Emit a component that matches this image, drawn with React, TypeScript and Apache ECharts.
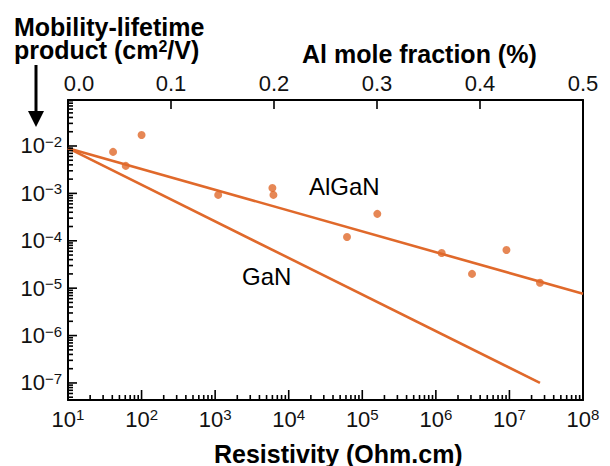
import React, { useEffect, useRef } from 'react';
import * as echarts from 'echarts';

// Measured AlGaN samples: resistivity (Ohm.cm) vs mobility-lifetime product (cm^2/V)
const resistivity = [41, 61, 100, 1.1e3, 6e3, 6.2e3, 6.2e4, 1.6e5, 1.2e6, 3.1e6, 9.1e6, 2.6e7];
const muTau = [7.5e-3, 3.8e-3, 1.7e-2, 9.3e-4, 1.3e-3, 9.3e-4, 1.2e-4, 3.7e-4, 5.5e-5, 2.0e-5, 6.4e-5, 1.3e-5];

// Trend lines
const alganFitX = [10, 1e8];
const alganFitY = [9e-3, 7.6e-6];
const ganFitX = [10, 2.6e7];
const ganFitY = [9e-3, 1.0e-7];

// Axis ranges and tick values
const resistivityRange = [10, 1e8];
const muTauRange = [4.37e-8, 0.0934];
const resistivityDecades = [1e1, 1e2, 1e3, 1e4, 1e5, 1e6, 1e7, 1e8];
const muTauDecades = [1e-7, 1e-6, 1e-5, 1e-4, 1e-3, 1e-2];
const alFractionRange = [0, 0.5];
const alFractionStep = 0.1;
const alFractionTicks = [0.1, 0.2, 0.3, 0.4];

const ORANGE = '#e0692b';
const INK = '#111';
const FONT = '"Liberation Sans", Arial, Helvetica, sans-serif';

// 2..9 x 10^n ticks within a range
function minorLogTicks(lo: number, hi: number): number[] {
  const out: number[] = [];
  const a = Math.floor(Math.log10(lo));
  const b = Math.ceil(Math.log10(hi));
  for (let n = a; n <= b; n++) {
    for (let k = 2; k <= 9; k++) {
      const v = k * Math.pow(10, n);
      if (v >= lo && v <= hi) out.push(v);
    }
  }
  return out;
}

function powerLabel(v: number): string {
  const n = Math.round(Math.log10(v));
  const exp = n < 0 ? '\u2212' + String(-n) : String(n);
  return `{b|10}{s|${exp}}`;
}

const powerRich = {
  b: { fontSize: 22, fontFamily: FONT, color: INK, lineHeight: 24 },
  s: { fontSize: 15, fontFamily: FONT, color: INK, lineHeight: 14, verticalAlign: 'top' as const },
};

// Static annotations: titles, curve names and the arrow
const annotations = [
  {
    type: 'text',
    left: 14,
    top: 14,
    style: { text: 'Mobility-lifetime', font: `bold 25px ${FONT}`, lineHeight: 22, fill: '#000' },
  },
  {
    type: 'text',
    left: 14,
    top: 37,
    style: {
      text: '{t|product (cm}{s|2}{t|/V)}',
      fill: '#000',
      rich: {
        t: { font: `bold 25px ${FONT}`, fill: '#000', lineHeight: 22 },
        s: { font: `bold 16px ${FONT}`, fill: '#000', lineHeight: 12, verticalAlign: 'top' },
      },
    },
  },
  {
    type: 'text',
    left: 302,
    top: 41,
    style: { text: 'Al mole fraction (%)', font: `bold 25px ${FONT}`, fill: '#000' },
  },
  {
    type: 'text',
    left: 214,
    top: 441,
    style: { text: 'Resistivity (Ohm.cm)', font: `bold 25px ${FONT}`, fill: '#000' },
  },
  { type: 'text', left: 309, top: 174, style: { text: 'AlGaN', font: `24px ${FONT}`, fill: '#000' } },
  { type: 'text', left: 242, top: 264, style: { text: 'GaN', font: `24px ${FONT}`, fill: '#000' } },
  {
    type: 'line',
    shape: { x1: 36, y1: 65, x2: 36, y2: 114 },
    style: { stroke: '#000', lineWidth: 3 },
  },
  {
    type: 'polygon',
    shape: { points: [[28, 111], [44, 111], [36, 127]] },
    style: { fill: '#000' },
  },
];

export default function App() {
  const ref = useRef<HTMLDivElement>(null);

  useEffect(() => {
    if (!ref.current) return;
    const chart = echarts.init(ref.current, undefined, { renderer: 'svg' });

    const points = resistivity.map((r, i) => [r, muTau[i]]);
    const algan = alganFitX.map((x, i) => [x, alganFitY[i]]);
    const gan = ganFitX.map((x, i) => [x, ganFitY[i]]);

    const frameLine = { show: true, onZero: false, lineStyle: { color: '#000', width: 2 } };

    chart.setOption({
      animation: false,
      grid: { left: 68, right: 27, top: 100, bottom: 66 },
      xAxis: [
        {
          type: 'log',
          min: resistivityRange[0],
          max: resistivityRange[1],
          position: 'bottom',
          axisLine: frameLine,
          splitLine: { show: false },
          axisTick: { show: false },
          axisLabel: {
            customValues: resistivityDecades,
            margin: 7,
            formatter: powerLabel,
            rich: powerRich,
          },
        },
        {
          type: 'value',
          min: alFractionRange[0],
          max: alFractionRange[1],
          interval: alFractionStep,
          position: 'top',
          axisLine: frameLine,
          splitLine: { show: false },
          axisTick: { show: false },
          axisLabel: {
            margin: 6,
            fontSize: 22,
            fontFamily: FONT,
            color: INK,
            formatter: (v: number) => (v === 0 ? '{first|0.0}' : v.toFixed(1)),
            rich: {
              first: { fontSize: 22, fontFamily: FONT, color: INK, padding: [0, 0, 0, 22] },
            },
          },
        },
      ],
      yAxis: [
        {
          type: 'log',
          min: muTauRange[0],
          max: muTauRange[1],
          position: 'left',
          axisLine: frameLine,
          splitLine: { show: false },
          axisTick: { show: false },
          axisLabel: {
            customValues: muTauDecades,
            margin: 6,
            formatter: powerLabel,
            rich: powerRich,
          },
        },
        {
          type: 'log',
          min: muTauRange[0],
          max: muTauRange[1],
          position: 'right',
          axisLine: frameLine,
          splitLine: { show: false },
          axisTick: { show: false },
          axisLabel: { show: false },
        },
      ],
      series: [
        {
          name: 'AlGaN fit',
          type: 'line',
          xAxisIndex: 0,
          yAxisIndex: 0,
          data: algan,
          showSymbol: false,
          lineStyle: { color: ORANGE, width: 2.6 },
        },
        {
          name: 'GaN fit',
          type: 'line',
          xAxisIndex: 0,
          yAxisIndex: 0,
          data: gan,
          showSymbol: false,
          lineStyle: { color: ORANGE, width: 2.6 },
        },
        {
          name: 'AlGaN',
          type: 'scatter',
          xAxisIndex: 0,
          yAxisIndex: 0,
          data: points,
          symbol: 'circle',
          symbolSize: 8,
          itemStyle: { color: ORANGE },
        },
      ],
    });

    // Inward tick marks on the frame, positioned through the axis scales
    const [xLo] = resistivityRange;
    const [yLo, yHi] = muTauRange;
    const toPx = (xi: number, v: number[]) =>
      chart.convertToPixel({ xAxisIndex: xi, yAxisIndex: 0 }, v) as number[];
    const tickLine = (x1: number, y1: number, x2: number, y2: number) => ({
      type: 'line',
      silent: true,
      z: 10,
      shape: { x1, y1, x2, y2 },
      style: { stroke: '#000', lineWidth: 1.6 },
    });

    const ticks: any[] = [];
    resistivityDecades.forEach((v) => {
      const [px, py] = toPx(0, [v, yLo]);
      ticks.push(tickLine(px, py, px, py - 10));
    });
    minorLogTicks(resistivityRange[0], resistivityRange[1]).forEach((v) => {
      const [px, py] = toPx(0, [v, yLo]);
      ticks.push(tickLine(px, py, px, py - 5));
    });
    muTauDecades.forEach((v) => {
      const [px, py] = toPx(0, [xLo, v]);
      ticks.push(tickLine(px, py, px + 9, py));
    });
    minorLogTicks(yLo, yHi).forEach((v) => {
      const [px, py] = toPx(0, [xLo, v]);
      ticks.push(tickLine(px, py, px + 5, py));
    });
    alFractionTicks.forEach((v) => {
      const [px, py] = toPx(1, [v, yHi]);
      ticks.push(tickLine(px, py, px, py + 9));
    });

    chart.setOption({ graphic: [...annotations, ...ticks] });

    return () => chart.dispose();
  }, []);

  return (
    <div
      ref={ref}
      style={{ position: 'fixed', left: 0, top: 0, width: 610, height: 466, background: '#fff' }}
    />
  );
}
